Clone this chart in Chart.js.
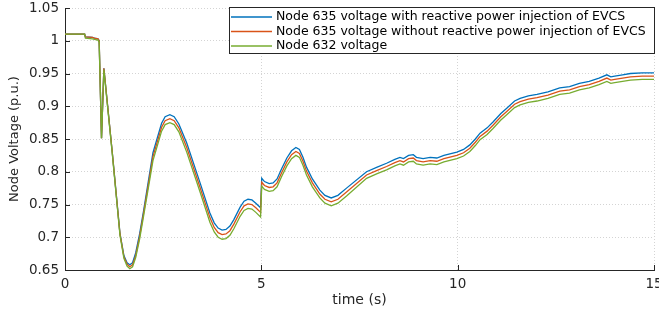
<!DOCTYPE html>
<html>
<head>
<meta charset="utf-8">
<script src="https://cdn.jsdelivr.net/npm/chart.js@4.4.1/dist/chart.umd.min.js"></script>
<style>
  html, body { margin: 0; padding: 0; background: #fff; }
  #wrap { width: 659px; height: 311px; overflow: hidden; }
</style>
</head>
<body>
<div id="wrap"><canvas id="chart" width="659" height="311"></canvas></div>
<script>
// time (s)
const times = [0, 0.5, 0.52, 0.7, 0.75, 0.84, 0.87, 0.93, 0.99, 1.2,
  1.4, 1.5, 1.58, 1.65, 1.72, 1.8, 1.9, 2.0, 2.24, 2.46,
  2.55, 2.67, 2.78, 2.9, 3.1, 3.44, 3.69, 3.8, 3.9, 4.0,
  4.1, 4.2, 4.3, 4.46, 4.56, 4.66, 4.76, 4.86, 4.98, 5.01,
  5.08, 5.2, 5.3, 5.4, 5.52, 5.65, 5.77, 5.88, 5.97, 6.06,
  6.15, 6.3, 6.49, 6.62, 6.78, 6.95, 7.17, 7.68, 7.95, 8.19,
  8.4, 8.53, 8.62, 8.75, 8.87, 8.95, 9.12, 9.3, 9.47, 9.65,
  9.98, 10.15, 10.31, 10.45, 10.57, 10.75, 10.9, 11.1, 11.25, 11.45,
  11.59, 11.8, 12.02, 12.3, 12.6, 12.85, 13.1, 13.35, 13.6, 13.8,
  13.9, 14.0, 14.2, 14.4, 14.7, 15.0];

// Node 635 with reactive power injection of EVCS
const v635Q = [1.010, 1.010, 1.006, 1.005, 1.004, 1.003, 1.000, 0.851, 0.958, 0.832,
  0.706, 0.672, 0.661, 0.658, 0.661, 0.676, 0.705, 0.740, 0.829, 0.874,
  0.884, 0.887, 0.884, 0.873, 0.844, 0.783, 0.737, 0.722, 0.714, 0.711,
  0.712, 0.717, 0.727, 0.746, 0.755, 0.758, 0.757, 0.752, 0.745, 0.790,
  0.785, 0.782, 0.783, 0.789, 0.805, 0.821, 0.832, 0.837, 0.834, 0.822,
  0.807, 0.789, 0.772, 0.764, 0.760, 0.764, 0.775, 0.800, 0.807, 0.813,
  0.819, 0.822, 0.820, 0.825, 0.826, 0.822, 0.820, 0.822, 0.821, 0.825,
  0.830, 0.834, 0.841, 0.850, 0.859, 0.867, 0.876, 0.889, 0.897, 0.908,
  0.912, 0.916, 0.918, 0.922, 0.928, 0.930, 0.935, 0.938, 0.943, 0.948,
  0.945, 0.946, 0.948, 0.950, 0.951, 0.951];

// Node 635 without reactive power injection
const v635 = [1.010, 1.010, 1.006, 1.005, 1.004, 1.003, 1.000, 0.851, 0.958, 0.832,
  0.705, 0.670, 0.659, 0.655, 0.658, 0.672, 0.701, 0.736, 0.823, 0.868,
  0.878, 0.881, 0.878, 0.867, 0.837, 0.776, 0.730, 0.715, 0.707, 0.704,
  0.705, 0.710, 0.720, 0.739, 0.748, 0.751, 0.750, 0.745, 0.738, 0.784,
  0.779, 0.776, 0.777, 0.783, 0.799, 0.815, 0.826, 0.831, 0.828, 0.816,
  0.801, 0.783, 0.766, 0.758, 0.754, 0.758, 0.769, 0.795, 0.802, 0.808,
  0.814, 0.817, 0.815, 0.820, 0.821, 0.817, 0.815, 0.817, 0.816, 0.820,
  0.825, 0.829, 0.836, 0.845, 0.854, 0.862, 0.871, 0.884, 0.892, 0.903,
  0.907, 0.911, 0.913, 0.917, 0.923, 0.925, 0.930, 0.933, 0.938, 0.943,
  0.940, 0.941, 0.943, 0.945, 0.946, 0.946];

// Node 632
const v632 = [1.010, 1.010, 1.004, 1.003, 1.002, 1.001, 0.998, 0.851, 0.956, 0.830,
  0.703, 0.668, 0.656, 0.652, 0.655, 0.669, 0.697, 0.732, 0.817, 0.862,
  0.872, 0.875, 0.872, 0.861, 0.830, 0.769, 0.723, 0.708, 0.700, 0.697,
  0.698, 0.703, 0.713, 0.732, 0.741, 0.744, 0.743, 0.738, 0.731, 0.778,
  0.773, 0.770, 0.771, 0.777, 0.793, 0.809, 0.820, 0.825, 0.822, 0.810,
  0.795, 0.777, 0.760, 0.752, 0.748, 0.752, 0.763, 0.790, 0.797, 0.803,
  0.809, 0.812, 0.810, 0.815, 0.816, 0.812, 0.810, 0.812, 0.811, 0.815,
  0.820, 0.824, 0.831, 0.840, 0.849, 0.857, 0.866, 0.879, 0.887, 0.898,
  0.902, 0.906, 0.908, 0.912, 0.918, 0.920, 0.925, 0.928, 0.933, 0.938,
  0.935, 0.936, 0.938, 0.940, 0.941, 0.941];

const seriesLabels = [
  'Node 635 voltage with reactive power injection of EVCS',
  'Node 635 voltage without reactive power injection of EVCS',
  'Node 632 voltage'
];
const xTicks = [0, 5, 10, 15];
const yTicks = [0.65, 0.7, 0.75, 0.8, 0.85, 0.9, 0.95, 1, 1.05];

const axisColor = '#262626';
const toPoints = vals => vals.map((v, i) => ({ x: times[i], y: v }));

// legenda desenhada dentro da área do gráfico (como no MATLAB)
const legendBox = {
  id: 'legendBox',
  afterDraw(chart) {
    const ctx = chart.ctx;
    ctx.save();
    ctx.fillStyle = '#fff';
    ctx.fillRect(229, 7, 426, 47);
    ctx.strokeStyle = axisColor;
    ctx.lineWidth = 1;
    ctx.strokeRect(229.5, 7.5, 425, 46);
    ctx.font = '12.5px "DejaVu Sans"';
    ctx.textBaseline = 'middle';
    ctx.textAlign = 'left';
    chart.data.datasets.forEach((ds, i) => {
      const y = 17 + i * 14.5;
      ctx.strokeStyle = ds.borderColor;
      ctx.lineWidth = 1.3;
      ctx.beginPath();
      ctx.moveTo(231, y);
      ctx.lineTo(272, y);
      ctx.stroke();
      ctx.fillStyle = '#000';
      ctx.fillText(ds.label, 276, y);
    });
    ctx.restore();
  }
};

// marcas de escala para dentro
const innerTicks = {
  id: 'innerTicks',
  afterDatasetsDraw(chart) {
    const { ctx, chartArea: a, scales } = chart;
    ctx.save();
    ctx.strokeStyle = axisColor;
    ctx.lineWidth = 1;
    ctx.beginPath();
    xTicks.forEach(t => {
      const x = Math.round(scales.x.getPixelForValue(t)) + 0.5;
      ctx.moveTo(x, a.bottom);
      ctx.lineTo(x, a.bottom - 5);
    });
    yTicks.forEach(t => {
      const y = Math.round(scales.y.getPixelForValue(t)) + 0.5;
      ctx.moveTo(a.left, y);
      ctx.lineTo(a.left + 5, y);
    });
    ctx.stroke();
    ctx.restore();
  }
};

Chart.defaults.font.family = '"DejaVu Sans", sans-serif';
Chart.defaults.color = axisColor;

new Chart(document.getElementById('chart'), {
  type: 'line',
  data: {
    datasets: [
      { label: seriesLabels[0], data: toPoints(v635Q), borderColor: '#0072BD', order: 2 },
      { label: seriesLabels[1], data: toPoints(v635), borderColor: '#D95319', order: 1 },
      { label: seriesLabels[2], data: toPoints(v632), borderColor: '#77AC30', order: 0 }
    ]
  },
  options: {
    responsive: false,
    animation: false,
    devicePixelRatio: 1,
    layout: { padding: { top: 8, right: 5, bottom: 0, left: 0 } },
    elements: {
      line: { borderWidth: 1.3, tension: 0, fill: false },
      point: { radius: 0 }
    },
    plugins: {
      legend: { display: false },
      tooltip: { enabled: false }
    },
    scales: {
      x: {
        type: 'linear',
        min: 0,
        max: 15,
        afterBuildTicks: s => { s.ticks = xTicks.map(v => ({ value: v })); },
        afterFit: s => { s.height = 41; s.paddingRight = 0; s.paddingLeft = 0; },
        ticks: { font: { size: 13.5 }, padding: 6, maxRotation: 0 },
        grid: { color: '#d4d4d4', drawTicks: false, lineWidth: 1 },
        border: { color: axisColor, width: 1, dash: [1, 2] },
        title: { display: true, text: 'time (s)', font: { size: 14 }, padding: { top: 0, bottom: 2 } }
      },
      y: {
        min: 0.65,
        max: 1.05,
        afterBuildTicks: s => { s.ticks = yTicks.map(v => ({ value: v })); },
        afterFit: s => { s.width = 65; s.paddingTop = 0; s.paddingBottom = 0; },
        ticks: { font: { size: 13.5 }, padding: 6, callback: v => String(+v.toFixed(2)) },
        grid: { color: '#d4d4d4', drawTicks: false, lineWidth: 1 },
        border: { color: axisColor, width: 1, dash: [1, 2] },
        title: { display: true, text: 'Node Voltage (p.u.)', font: { size: 13 }, padding: { top: 7, bottom: 0 } }
      }
    }
  },
  plugins: [legendBox, innerTicks]
});
</script>
</body>
</html>
